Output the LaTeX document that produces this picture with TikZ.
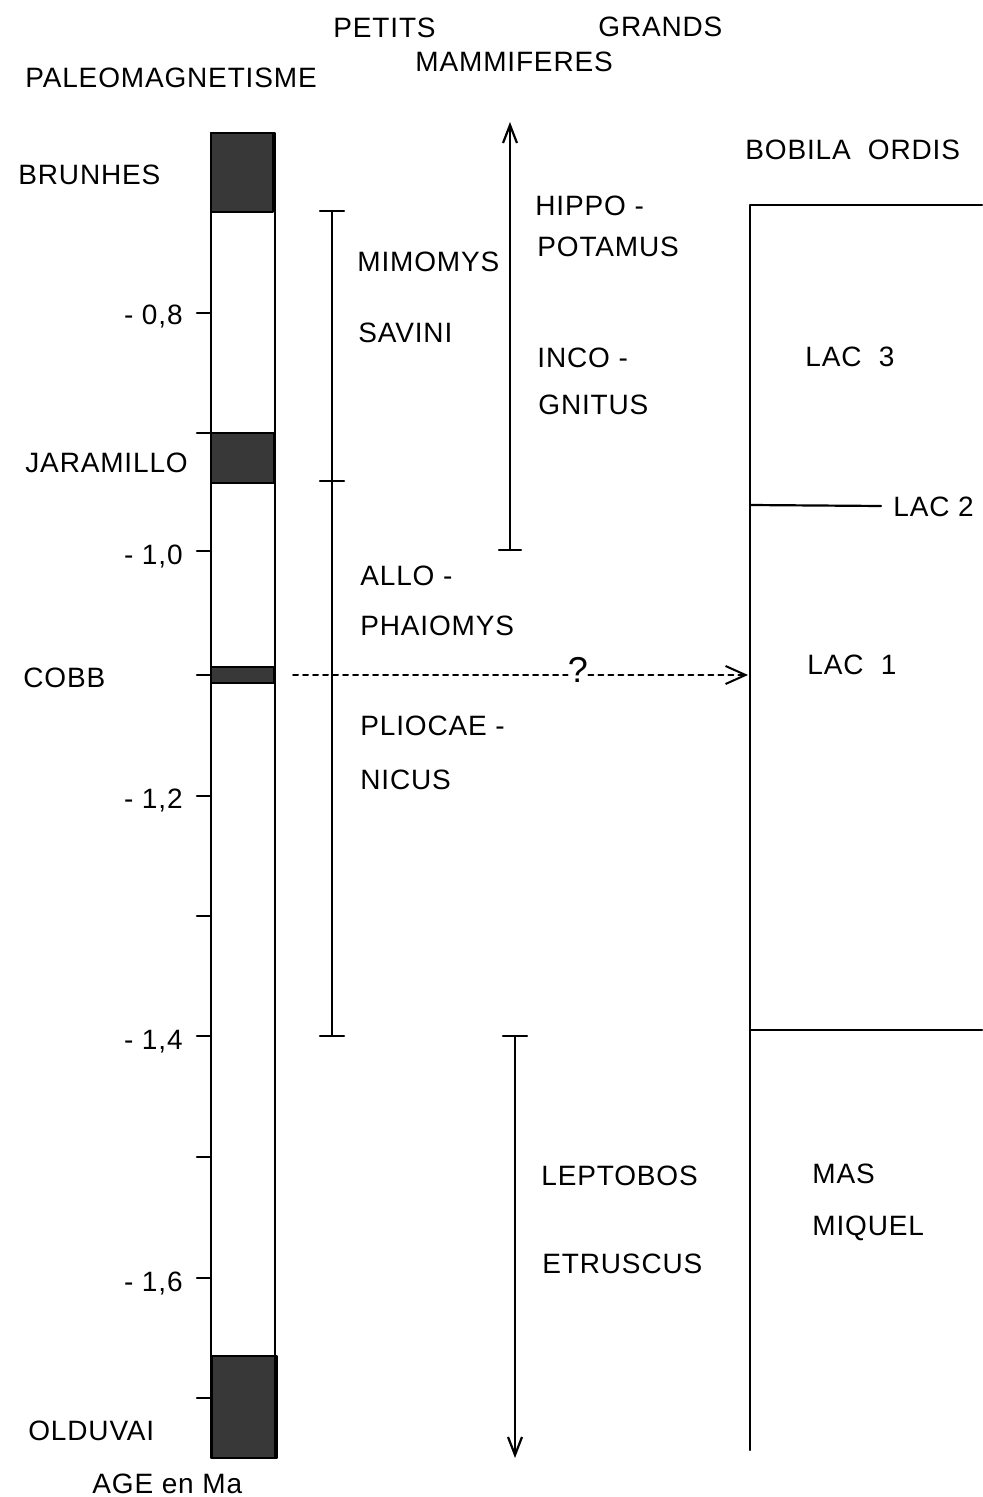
\documentclass[tikz,border=0pt]{standalone}
\usepackage{fontspec}
\setmainfont{Liberation Sans}[LetterSpace=3]
\usetikzlibrary{arrows.meta}

\begin{document}
\begin{tikzpicture}[
    x=0.5pt,
    y=-0.5pt,
    line cap=round,
    line join=round,
    trait/.style={line width=1.1pt},
    pointille/.style={line width=1pt,dash pattern=on 2.5pt off 2.5pt},
    bande/.style={fill=black!78,draw=black,line width=0.8pt},
    lettre/.style={anchor=west,inner sep=0pt,text height=10pt,text depth=0pt,
                   font=\fontsize{14}{16}\selectfont},
    pointe/.style={-{Straight Barb[length=9pt,width=7pt]}}
]
\useasboundingbox (0,0) rectangle (982,1497);

% -------------------------------------------------
% Titres
% -------------------------------------------------

\node[lettre] (paleo)  at (25,78)  {PALEOMAGNETISME};
\node[lettre] (petits) at (333,28) {PETITS};
\node[lettre] (grands) at (598,27) {GRANDS};
\node[lettre] (mammi)  at (415,62) {MAMMIFERES};
\node[lettre] (bobila) at (745,150) {BOBILA\ \ ORDIS};

% -------------------------------------------------
% Colonne paleomagnetique
% -------------------------------------------------

\coordinate (Ch) at (211,133);
\coordinate (Cb) at (275,1458);

\draw[bande] (211,133)  rectangle (273,212);
\draw[bande] (211,433)  rectangle (274,483);
\draw[bande] (211,667)  rectangle (274,683);
\draw[bande] (212,1356) rectangle (277,1458);
\draw[trait] (Ch) rectangle (Cb);

% graduations
\foreach \y in {313,433,551,675,796,916,1036,1157,1278,1398}
    \draw[trait] (197,\y) -- (211,\y);

\node[lettre,anchor=east] (a08) at (183,315)  {- 0,8};
\node[lettre,anchor=east] (a10) at (183,554)  {- 1,0};
\node[lettre,anchor=east] (a12) at (183,798)  {- 1,2};
\node[lettre,anchor=east] (a14) at (183,1039) {- 1,4};
\node[lettre,anchor=east] (a16) at (183,1281) {- 1,6};

\node[lettre] (brunhes)   at (18,175)  {BRUNHES};
\node[lettre] (jaramillo) at (25,463)  {JARAMILLO};
\node[lettre] (cobb)      at (23,677)  {COBB};
\node[lettre] (olduvai)   at (28,1430) {OLDUVAI};
\node[lettre] (age)       at (92,1483) {AGE en Ma};

% -------------------------------------------------
% Petits mammiferes
% -------------------------------------------------

\coordinate (P1) at (332,211);
\coordinate (P2) at (332,481);
\coordinate (P3) at (332,1036);

\draw[trait] (P1) -- (P3);
\foreach \p in {P1,P2,P3}
    \draw[trait] ([xshift=-6pt]\p) -- ([xshift=6pt]\p);

\node[lettre] (mimomys)  at (357,262) {MIMOMYS};
\node[lettre] (savini)   at (358,333) {SAVINI};
\node[lettre] (allo)     at (360,575) {ALLO -};
\node[lettre] (phaio)    at (360,625) {PHAIOMYS};
\node[lettre] (pliocae)  at (360,725) {PLIOCAE -};
\node[lettre] (nicus)    at (360,779) {NICUS};

% -------------------------------------------------
% Grands mammiferes
% -------------------------------------------------

\coordinate (G1) at (510,550);
\coordinate (G2) at (510,122);
\coordinate (G3) at (515,1036);
\coordinate (G4) at (515,1458);

\draw[trait,pointe] (G1) -- (G2);
\draw[trait] ([xshift=-5.5pt]G1) -- ([xshift=5.5pt]G1);
\draw[trait,pointe] (G3) -- (G4);
\draw[trait] ([xshift=-6pt]G3) -- ([xshift=6pt]G3);

\node[lettre] (hippo)    at (535,206)  {HIPPO -};
\node[lettre] (potamus)  at (537,247)  {POTAMUS};
\node[lettre] (inco)     at (537,358)  {INCO -};
\node[lettre] (gnitus)   at (538,405)  {GNITUS};
\node[lettre] (lepto)    at (541,1175) {LEPTOBOS};
\node[lettre] (etrus)    at (542,1263) {ETRUSCUS};

% -------------------------------------------------
% Bobila Ordis
% -------------------------------------------------

\coordinate (B1) at (750,205);
\coordinate (B2) at (750,1450);
\coordinate (B3) at (982,205);
\coordinate (L2) at (750,505);
\coordinate (L0) at (750,1030);
\coordinate (L0d) at (982,1030);

\node[lettre] (lac3)   at (805,357)  {LAC\ \ 3};
\node[lettre] (lac2)   at (893,506)  {LAC 2};
\node[lettre] (lac1)   at (807,664)  {LAC\ \ 1};
\node[lettre] (mas)    at (812,1173) {MAS};
\node[lettre] (miquel) at (812,1225) {MIQUEL};

\draw[trait] (B2) |- (B3);
\draw[trait] (L2) -- ([xshift=-6pt]lac2.west);
\draw[trait] (L0) -- (L0d);

% -------------------------------------------------
% Correlation Cobb
% -------------------------------------------------

\coordinate (D1) at (293,675);
\coordinate (D2) at (748,675);
\node[lettre,anchor=center,text height=13pt,font=\fontsize{18}{20}\selectfont]
    (q) at (578,669) {?};

\draw[pointille] (D1) -- (q.west |- D1);
\draw[pointille,-{Straight Barb[length=10pt,width=9pt]}] (q.east |- D1) -- (D2);

\end{tikzpicture}
\end{document}
